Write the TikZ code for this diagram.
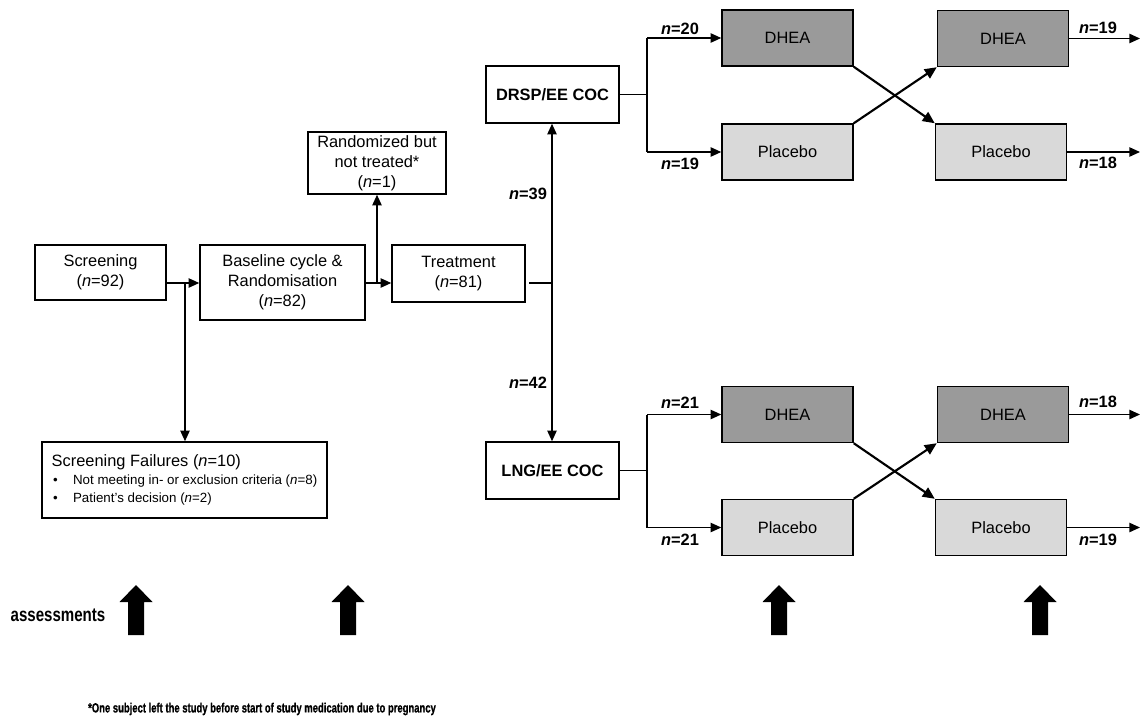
\documentclass[tikz,border=0pt]{standalone}
\usepackage{fontspec}
\setmainfont{Liberation Sans}
\newfontfamily\narrowfont[FakeStretch=0.78]{Liberation Sans}
\newfontfamily\footfont[FakeStretch=0.71,FakeBold=1]{Liberation Sans}
\usetikzlibrary{arrows.meta}
\definecolor{dheagray}{HTML}{9A9A9A}
\definecolor{plagray}{HTML}{D9D9D9}
\begin{document}
\begin{tikzpicture}[x=0.75pt,y=-0.75pt,
  every node/.style={font=\fontsize{12.3}{15}\selectfont},
  box/.style={draw,line width=1.1pt,align=center,inner sep=2pt},
  ln/.style={line width=1.1pt},
  arr/.style={line width=1.1pt,-{Triangle[length=8pt,width=7pt]}},
  xarr/.style={line width=1.6pt,-{Triangle[length=9pt,width=8pt]}},
  nlab/.style={font=\fontsize{12.3}{14}\selectfont\bfseries},
  dhea/.style={box,fill=dheagray,minimum width=98.25pt,minimum height=42pt},
  pla/.style={box,fill=plagray,minimum width=98.25pt,minimum height=42pt},
  coc/.style={box,minimum width=99.75pt,minimum height=42.75pt,font=\fontsize{12.3}{14}\selectfont\bfseries}]
\useasboundingbox (0,0) rectangle (1141,717);
% left part
\node[box,minimum width=98.25pt,minimum height=41.25pt] (scr) at (100.5,272.5) {Screening\\(\textit{n}=92)};
\node[box,minimum width=123.75pt,minimum height=56.25pt] (base) at (282.5,282.5) {Baseline cycle \&\\Randomisation\\(\textit{n}=82)};
\node[box,minimum width=103.5pt,minimum height=46.5pt] (rand) at (377,163) {Randomized but\\not treated*\\(\textit{n}=1)};
\node[box,minimum width=99.75pt,minimum height=42.75pt] (treat) at (458.5,273.5) {Treatment\\(\textit{n}=81)};
\node[box,minimum width=213.75pt,minimum height=57pt,align=left,inner sep=0pt] (fail) at (184.5,480)
 {{\fontsize{12.3}{14}\selectfont Screening Failures (\textit{n}=10)}\\[-1pt]
  {\fontsize{10}{12}\selectfont\hspace*{1pt}\makebox[15pt][l]{\textbullet}Not meeting in- or exclusion criteria (\textit{n}=8)}\\[-1.5pt]
  {\fontsize{10}{12}\selectfont\hspace*{1pt}\makebox[15pt][l]{\textbullet}Patient's decision (\textit{n}=2)}};
\coordinate (j1) at (185,283);
\coordinate (j2) at (377,283);
\draw[arr] (scr.east |- j1) -- (base.west |- j1);
\draw[arr] (j1) -- (j1 |- fail.north);
\draw[arr] (base.east |- j2) -- (treat.west |- j2);
\draw[arr] (j2) -- (rand.south);
% split
\coordinate (t0) at (529,283);
\coordinate (t1) at (552,283);
\node[coc] (drsp) at (552.5,94.5) {DRSP/EE COC};
\node[coc] (lng) at (552.5,470.5) {LNG/EE COC};
\draw[ln] (t0) -- (t1);
\draw[arr] (t1) -- (t1 |- drsp.south);
\draw[arr] (t1) -- (t1 |- lng.north);
\node[nlab] (n39) at (528,194) {\textit{n}=39};
\node[nlab] (n42) at (528,383) {\textit{n}=42};
% upper group
\node[dhea] (d1) at (787.5,38) {DHEA};
\node[pla] (p1) at (787.5,152) {Placebo};
\node[dhea] (d2) at (1003,38.5) {DHEA};
\node[pla] (p2) at (1001,152) {Placebo};
\coordinate (u0) at (647,94.5);
\coordinate (ua) at (647,38);
\coordinate (ub) at (647,152);
\draw[ln] (drsp.east |- u0) -- (u0);
\draw[ln] (ua) -- (ub);
\draw[arr] (ua) -- (d1.west |- ua);
\draw[arr] (ub) -- (p1.west |- ub);
\draw[xarr] (d1.south east) -- (p2.north west);
\draw[xarr] (p1.north east) -- (d2.south west);
\coordinate (ue1) at (1140,38.5);
\coordinate (ue2) at (1140,152);
\draw[arr] (d2.east) -- (ue1);
\draw[arr] (p2.east) -- (ue2);
\node[nlab] (n20) at (680,29) {\textit{n}=20};
\node[nlab] (n19a) at (680,164) {\textit{n}=19};
\node[nlab] (n19b) at (1098,28) {\textit{n}=19};
\node[nlab] (n18a) at (1098,163) {\textit{n}=18};
% lower group
\node[dhea] (d3) at (787.5,414.5) {DHEA};
\node[pla] (p3) at (787.5,527.5) {Placebo};
\node[dhea] (d4) at (1003,414.5) {DHEA};
\node[pla] (p4) at (1001,527.5) {Placebo};
\coordinate (l0) at (647,470.5);
\coordinate (la) at (647,414.5);
\coordinate (lb) at (647,527.5);
\draw[ln] (lng.east |- l0) -- (l0);
\draw[ln] (la) -- (lb);
\draw[arr] (la) -- (d3.west |- la);
\draw[arr] (lb) -- (p3.west |- lb);
\draw[xarr] (d3.south east) -- (p4.north west);
\draw[xarr] (p3.north east) -- (d4.south west);
\coordinate (le1) at (1140,414.5);
\coordinate (le2) at (1140,527.5);
\draw[arr] (d4.east) -- (le1);
\draw[arr] (p4.east) -- (le2);
\node[nlab] (n21a) at (680,403) {\textit{n}=21};
\node[nlab] (n21b) at (680,540) {\textit{n}=21};
\node[nlab] (n18b) at (1098,402) {\textit{n}=18};
\node[nlab] (n19c) at (1098,540) {\textit{n}=19};
% assessments
\node (ass) at (58,615) {\fontsize{14.5}{16}\selectfont\narrowfont\bfseries assessments};
\foreach \x in {136,348,779,1040}{
  \fill ({\x-8},635) -- ({\x-8},602) -- ({\x-16.5},602) -- (\x,585) -- ({\x+16.5},602) -- ({\x+8},602) -- ({\x+8},635) -- cycle;
}
\node (foot) at (262,709) {\fontsize{10}{11}\selectfont\footfont\bfseries *One subject left the study before start of study medication due to pregnancy};
\end{tikzpicture}
\end{document}
